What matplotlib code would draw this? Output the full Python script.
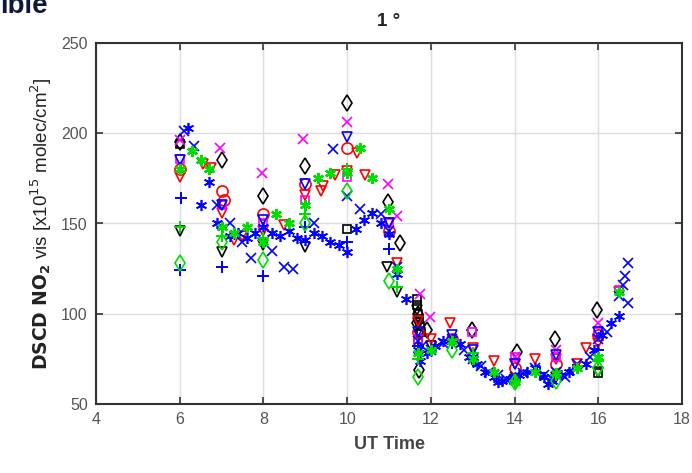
import matplotlib
matplotlib.use("Agg")
import matplotlib.pyplot as plt

# ---------------- data ----------------
# black hollow diamonds
k_d_t = [6.0, 7.0, 8.0, 9.0, 10.0, 10.98, 11.26, 11.7, 11.72, 11.68, 11.9, 12.98, 14.06, 14.97, 15.97]
k_d_v = [195, 185, 165, 182, 217, 162, 139, 100, 69, 95, 91, 91, 79, 86, 102]
# black hollow down-triangles
k_v_t = [6.0, 7.0, 8.0, 9.0, 10.95, 11.2, 11.7, 11.72, 11.66, 12.0, 13.0, 14.0, 15.0, 16.0]
k_v_v = [146, 134, 138, 137, 126, 112, 95, 88, 102, 82, 74, 63, 65, 68]
# black hollow squares
k_s_t = [6.0, 10.0, 11.68, 11.7, 11.72, 11.74, 11.7, 11.66, 11.76, 16.0]
k_s_v = [194, 147, 105, 100, 97, 93, 86, 108, 90, 67]
# red hollow circles
r_o_t = [6.0, 7.0, 7.05, 8.0, 9.0, 10.0, 11.0, 11.7, 12.5, 14.0, 15.0, 16.0]
r_o_v = [180, 168, 163, 155, 172, 192, 146, 90, 86, 70, 72, 88]
# red hollow down-triangles
r_v_t = [6.0, 6.55, 6.75, 7.0, 7.3, 7.5, 8.0, 8.5, 9.0, 9.37, 9.42, 9.7, 10.0, 10.24, 10.43,
         11.0, 11.2, 11.7, 12.0, 12.46, 13.0, 13.5, 14.0, 14.5, 15.0, 15.5, 15.7, 16.0, 16.5]
r_v_v = [176, 183, 181, 156, 141, 143, 146, 149, 166, 168, 171, 177, 179, 189, 177,
         150, 128, 96, 86, 95, 81, 74, 72, 75, 75, 72, 81, 84, 112]
# magenta x
m_x_t = [6.0, 6.96, 7.97, 8.95, 10.0, 10.98, 11.2, 11.74, 11.98, 14.0, 15.0, 16.0]
m_x_v = [196, 192, 178, 197, 206, 172, 154, 111, 98, 76, 80, 95]
# magenta hollow squares
m_s_t = [6.0, 7.0, 8.0, 9.0, 10.0, 11.0, 11.7, 12.98, 14.0, 15.0, 16.0, 16.5]
m_s_v = [186, 160, 150, 163, 176, 150, 86, 90, 76, 76, 90, 113]
# blue x
b_x_t = [6.1, 6.35, 6.9, 7.2, 7.5, 7.7, 8.2, 8.5, 8.7, 9.2, 9.66, 10.0, 10.3, 10.8, 11.0,
         11.2, 11.7, 11.8, 12.0, 12.3, 12.5, 12.8, 13.0, 13.2, 13.4, 13.6, 13.8, 14.0, 14.2,
         14.5, 14.7, 14.9, 15.0, 15.2, 15.5, 15.8, 16.0, 16.2, 16.5, 16.6, 16.65, 16.7, 16.72]
b_x_v = [201, 193, 160, 150, 140, 131, 135, 126, 125, 150, 191, 165, 158, 155, 146,
         126, 85, 82, 80, 84, 86, 80, 75, 71, 68, 66, 64, 65, 67,
         70, 66, 64, 68, 65, 72, 76, 86, 90, 110, 116, 121, 128, 106]
# blue asterisks
b_a_t = [6.2, 6.5, 6.7, 6.9, 7.0, 7.2, 7.4, 7.6, 7.8, 8.0, 8.2, 8.4, 8.6, 8.8, 9.0, 9.2, 9.4,
         9.6, 9.8, 10.0, 10.2, 10.4, 10.6, 10.8, 11.0, 11.2, 11.4, 11.7, 11.75, 11.9, 12.1,
         12.3, 12.5, 12.7, 12.9, 13.1, 13.3, 13.5, 13.6, 13.7, 13.9, 14.1, 14.3, 14.5, 14.7,
         14.8, 14.9, 15.1, 15.3, 15.5, 15.7, 15.9, 16.1, 16.3, 16.5]
b_a_v = [203, 160, 173, 150, 148, 143, 145, 142, 145, 148, 145, 143, 146, 142, 141, 145, 143,
         140, 138, 134, 147, 152, 156, 150, 144, 122, 108, 80, 74, 78, 82,
         85, 86, 83, 76, 72, 68, 65, 62, 63, 64, 66, 68, 70, 65,
         61, 63, 66, 68, 70, 72, 80, 88, 95, 99]
# blue plus
b_p_t = [6.0, 6.02, 7.0, 8.0, 9.0, 10.0, 11.0, 11.7, 12.5, 13.5, 14.0, 14.6, 15.0, 15.4, 16.0]
b_p_v = [124, 164, 126, 121, 148, 140, 136, 82, 84, 66, 64, 67, 66, 69, 80]
# blue hollow down-triangles
b_v_t = [6.0, 7.0, 8.0, 9.0, 10.0, 11.0, 11.7, 12.5, 13.0, 14.0, 15.0, 16.0]
b_v_v = [185, 160, 152, 172, 198, 150, 90, 88, 80, 72, 77, 90]
# green asterisks
g_a_t = [6.0, 6.3, 6.5, 6.7, 7.0, 7.3, 7.6, 8.0, 8.3, 8.6, 9.0, 9.3, 9.6, 10.0, 10.3, 10.6,
         11.0, 11.2, 11.7, 12.0, 12.5, 13.0, 13.5, 14.0, 14.5, 15.0, 15.5, 16.0, 16.5]
g_a_v = [180, 190, 185, 180, 148, 145, 148, 140, 155, 150, 160, 175, 178, 178, 192, 175,
         158, 125, 78, 80, 85, 75, 68, 62, 68, 67, 70, 76, 112]
# green hollow diamonds
g_d_t = [6.0, 7.0, 8.0, 9.0, 10.0, 11.0, 11.7, 12.5, 14.0, 15.0, 16.0]
g_d_v = [128, 140, 130, 150, 168, 118, 65, 80, 62, 63, 70]
# green plus
g_p_t = [6.0, 7.0, 8.0, 9.0, 10.0, 11.2, 11.7, 13.0, 14.0, 15.0, 16.0]
g_p_v = [148, 143, 142, 155, 180, 115, 75, 78, 63, 66, 74]

xticks = [4, 6, 8, 10, 12, 14, 16, 18]
yticks = [50, 100, 150, 200, 250]

# ---------------- plot ----------------
plt.rcParams['font.family'] = ['Liberation Sans', 'DejaVu Sans']
fig = plt.figure(figsize=(6.92, 4.73), dpi=100)
ax = fig.add_axes([96/692, 1 - 404/473, 586/692, 361/473])

ms = 7
ast = (6, 2, 0)
def hol(t, v, m, c, size=ms):
    ax.plot(t, v, linestyle='none', marker=m, markersize=size, markerfacecolor='none',
            markeredgecolor=c, markeredgewidth=1.2)
def lin(t, v, m, c, size=ms, mew=1.2):
    ax.plot(t, v, linestyle='none', marker=m, markersize=size, color=c, markeredgewidth=mew)

hol(k_d_t, k_d_v, 'd', 'black', 8)
hol(k_v_t, k_v_v, 'v', 'black')
hol(k_s_t, k_s_v, 's', 'black', 6)
hol(r_o_t, r_o_v, 'o', 'red', 8)
hol(r_v_t, r_v_v, 'v', 'red')
lin(m_x_t, m_x_v, 'x', 'magenta')
hol(m_s_t, m_s_v, 's', 'magenta', 6)
lin(b_x_t, b_x_v, 'x', 'blue')
lin(b_a_t, b_a_v, ast, 'blue', 8)
lin(b_p_t, b_p_v, '+', 'blue', 9, 1.4)
hol(b_v_t, b_v_v, 'v', 'blue')
lin(g_a_t, g_a_v, ast, '#00dd00', 8, 1.7)
hol(g_d_t, g_d_v, 'd', '#00dd00', 8)
lin(g_p_t, g_p_v, '+', '#00dd00', 9, 1.4)

ax.set_xlim(4, 18)
ax.set_ylim(50, 250)
ax.set_xticks(xticks)
ax.set_yticks(yticks)
ax.grid(True, color='#dddddd', linewidth=1.0)
ax.set_axisbelow(True)
ax.tick_params(direction='in', top=True, right=True, length=5, width=1.2,
               color='#333333', labelcolor='#555555', labelsize=11.5, pad=6)
for s in ax.spines.values():
    s.set_linewidth(1.5)
    s.set_color('#333333')

ax.set_title('1 °', fontsize=13.5, fontweight='bold', color='#222222', pad=12)
ax.set_xlabel('UT Time', fontsize=13, fontweight='bold', color='#444444', labelpad=6)
ax.set_ylabel(r'$\mathbf{DSCD\ NO_2}$ vis [x10$^{15}$ molec/cm$^{2}$]', fontsize=13.5,
              color='#222222', labelpad=5)

fig.text(0.0, 1 - 13/473, 'ible', fontsize=20, fontweight='bold', color='#0d1a3a',
         ha='left', va='baseline')

fig.savefig('out.png', dpi=100)
